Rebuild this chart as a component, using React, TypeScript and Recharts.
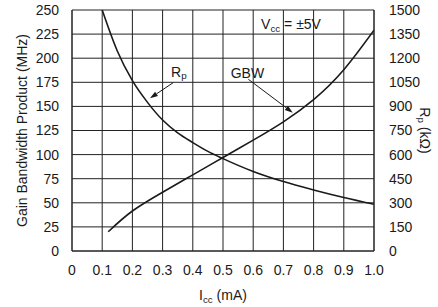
import {
  LineChart,
  Line,
  XAxis,
  YAxis,
  CartesianGrid,
  ReferenceLine,
  ReferenceDot,
  Label,
} from "recharts"

// I_cc (mA) and gain bandwidth product (MHz)
const gbwCurrent = [0.12, 0.2, 0.3, 0.4, 0.5, 0.6, 0.7, 0.8, 0.9, 1.0]
const gbwValues = [20, 41.5, 61, 79, 97, 115, 134, 157, 188, 229]

// I_cc (mA) and Rp (kOhm)
const rpCurrent = [0.1, 0.15, 0.2, 0.25, 0.3, 0.35, 0.4, 0.45, 0.5, 0.6, 0.7, 0.8, 0.9, 1.0]
const rpValues = [1500, 1245, 1060, 925, 815, 735, 675, 620, 575, 495, 432, 380, 333, 291]

const xTicks = [0, 0.1, 0.2, 0.3, 0.4, 0.5, 0.6, 0.7, 0.8, 0.9, 1.0]
const leftTicks = [0, 25, 50, 75, 100, 125, 150, 175, 200, 225, 250]
const rightTicks = [0, 150, 300, 450, 600, 750, 900, 1050, 1200, 1350, 1500]

const gbwData = gbwCurrent.map((x, i) => ({ x, gbw: gbwValues[i] }))
const rpData = rpCurrent.map((x, i) => ({ x, rp: rpValues[i] }))

const FONT = "'Liberation Sans', Arial, Helvetica, sans-serif"
const INK = "#1a1a1a"

function Arrow(props: any) {
  const { x1, y1, x2, y2 } = props
  const ang = Math.atan2(y2 - y1, x2 - x1)
  const len = 8
  const w = 2.6
  const bx = x2 - len * Math.cos(ang)
  const by = y2 - len * Math.sin(ang)
  const px = -Math.sin(ang) * w
  const py = Math.cos(ang) * w
  return (
    <g>
      <line x1={x1} y1={y1} x2={bx} y2={by} stroke={INK} strokeWidth={1} />
      <polygon points={`${x2},${y2} ${bx + px},${by + py} ${bx - px},${by - py}`} fill={INK} />
    </g>
  )
}

function SubText(props: any) {
  const { x, y, main, sub, rest, anchor, angle, size = 14 } = props
  const transform = angle ? `rotate(${angle}, ${x}, ${y})` : undefined
  return (
    <text
      x={x}
      y={y}
      textAnchor={anchor || "start"}
      fontFamily={FONT}
      fontSize={size}
      fill={INK}
      transform={transform}
    >
      {main}
      <tspan fontSize={size * 0.7} dy={2.5}>{sub}</tspan>
      {rest ? <tspan dy={-2.5}>{rest}</tspan> : null}
    </text>
  )
}

export default function App() {
  return (
    <div style={{ width: 438, height: 307 }}>
      <style>{`body{margin:0}`}</style>
      <LineChart
        width={438}
        height={307}
        margin={{ top: 10, right: 0, bottom: 0, left: 0 }}
      >
        <CartesianGrid yAxisId="left" stroke="#222" strokeWidth={1} />
        <XAxis
          type="number"
          dataKey="x"
          domain={[0, 1]}
          ticks={xTicks}
          allowDataOverflow
          tickFormatter={(v: number) => (v === 0 ? "0" : v.toFixed(1))}
          tick={{ fill: INK, fontSize: 14, fontFamily: FONT }}
          tickLine={false}
          axisLine={{ stroke: "#222" }}
          tickMargin={8}
          height={56}
        >
          <Label
            content={(p: any) => (
              <SubText
                x={p.viewBox.x + p.viewBox.width / 2}
                y={300}
                main="I"
                sub="cc"
                rest=" (mA)"
                anchor="middle"
              />
            )}
          />
        </XAxis>
        <YAxis
          yAxisId="left"
          domain={[0, 250]}
          ticks={leftTicks}
          tick={{ fill: INK, fontSize: 14, fontFamily: FONT }}
          tickLine={false}
          axisLine={{ stroke: "#222" }}
          tickMargin={7}
          width={72}
        >
          <Label
            value="Gain Bandwidth Product (MHz)"
            angle={-90}
            position="insideLeft"
            offset={22}
            style={{ textAnchor: "middle", fill: INK, fontSize: 14, fontFamily: FONT }}
          />
        </YAxis>
        <YAxis
          yAxisId="right"
          orientation="right"
          domain={[0, 1500]}
          ticks={rightTicks}
          tick={{ fill: INK, fontSize: 14, fontFamily: FONT, textAnchor: "start" }}
          tickLine={false}
          axisLine={{ stroke: "#222" }}
          tickMargin={9}
          width={64}
        >
          <Label
            content={(p: any) => (
              <SubText
                x={p.viewBox.x + p.viewBox.width - 18}
                y={p.viewBox.y + p.viewBox.height / 2}
                main="R"
                sub="p"
                rest=" (kΩ)"
                anchor="middle"
                angle={90}
              />
            )}
          />
        </YAxis>
        <Line
          yAxisId="left"
          data={gbwData}
          dataKey="gbw"
          type="natural"
          stroke={INK}
          strokeWidth={1.6}
          dot={false}
          isAnimationActive={false}
        />
        <Line
          yAxisId="right"
          data={rpData}
          dataKey="rp"
          type="monotone"
          stroke={INK}
          strokeWidth={1.6}
          dot={false}
          isAnimationActive={false}
        />
        <ReferenceLine
          yAxisId="left"
          segment={[{ x: 0.335, y: 174.6 }, { x: 0.258, y: 158.4 }]}
          shape={Arrow}
        />
        <ReferenceLine
          yAxisId="left"
          segment={[{ x: 0.584, y: 178.1 }, { x: 0.731, y: 143.5 }]}
          shape={Arrow}
        />
        <ReferenceDot
          yAxisId="left"
          x={0.328}
          y={180.5}
          r={0}
          shape={(p: any) => <SubText x={p.cx} y={p.cy} main="R" sub="p" />}
        />
        <ReferenceDot
          yAxisId="left"
          x={0.581}
          y={179.5}
          r={0}
          shape={(p: any) => (
            <text x={p.cx} y={p.cy} textAnchor="middle" fontFamily={FONT} fontSize={14} fill={INK}>
              GBW
            </text>
          )}
        />
        <ReferenceDot
          yAxisId="left"
          x={0.626}
          y={229.8}
          r={0}
          shape={(p: any) => <SubText x={p.cx} y={p.cy} main="V" sub="cc" rest=" = ±5V" />}
        />
      </LineChart>
    </div>
  )
}
